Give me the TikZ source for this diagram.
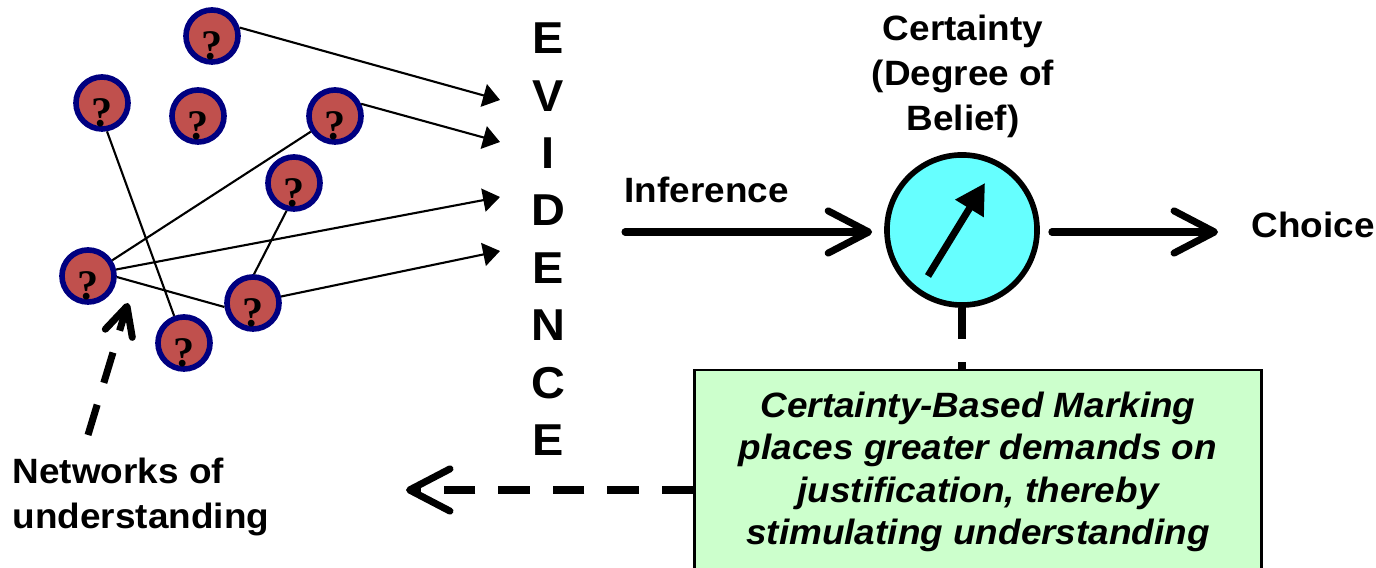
\documentclass[tikz,border=0pt]{standalone}
\usepackage{fontspec}
\setmainfont{Liberation Sans}[FakeStretch=1.05]
\newfontfamily\qfont{Liberation Serif}
\usepackage{xcolor}
\definecolor{brick}{HTML}{C0504D}
\definecolor{navy}{HTML}{000080}
\definecolor{dialc}{HTML}{66FFFF}
\definecolor{mint}{HTML}{CCFFCC}
\usetikzlibrary{arrows.meta,calc}
\tikzset{
  qnode/.style={circle,draw=navy,fill=brick,line width=1.6pt,minimum size=0.52cm,inner sep=0pt,
    label={[qmark]center:?}},
  qmark/.style={font=\qfont\bfseries\fontsize{12}{12}\selectfont,inner sep=0pt,yshift=-0.1cm},
  link/.style={draw=black,line width=0.6pt},
  linka/.style={link,-{Triangle[length=4.8pt,width=6.6pt]}},
  ev/.style={font=\bfseries\fontsize{12.7}{14}\selectfont,inner sep=0pt},
  lbl/.style={font=\bfseries\fontsize{10}{12.8}\selectfont,inner sep=0pt},
  dial/.style={circle,draw=black,fill=dialc,line width=1.6pt,minimum size=1.5cm,inner sep=0pt},
  needle/.style={line width=2pt,-{Triangle[length=8.5pt,width=9pt]}},
  bigflow/.style={line width=2pt,line cap=round,-{Straight Barb[length=11.5pt,width=12pt,round]}},
  dashflow/.style={bigflow,line cap=butt,dash pattern=on 9pt off 6.5pt},
  netflow/.style={dashflow,-{Straight Barb[length=8pt,width=8pt,round]}},
  note/.style={draw=black,fill=mint,line width=0.8pt,align=center,
    font=\bfseries\itshape\fontsize{10}{12.1}\selectfont,minimum width=5.66cm,minimum height=2.04cm},
}
\begin{document}
\begin{tikzpicture}[x=0.01cm,y=-0.01cm]
  \useasboundingbox (0,0) rectangle (1376,568);
  \clip (0,0) rectangle (1376,568);
  % network of ideas
  \foreach \n/\x/\y in {1/212/36,2/102/103,3/198/116,4/335/116,5/294/183,6/88/276,7/253/303,8/184/343}
    \node[qnode] (c\n) at (\x,\y) {};
  % evidence column
  \foreach \l [count=\i] in {E,V,I,D,E,N,C,E}
    \node[ev] (ev\i) at (548,57.4*\i-19) {\l};
  \foreach \k/\y in {1/100,2/142,3/197,4/251}
    \coordinate (e\k) at (500,\y);
  \draw[linka] (c1.17) -- (e1);
  \draw[linka] (c4.25) -- (e2);
  \draw[linka] (c6.13) -- (e3);
  \draw[linka] (c7.13) -- (e4);
  \draw[link] (c6) -- (c4);
  \draw[link] (c6.-2) -- (c7.188);
  \draw[link] (c2.-80) -- (c8.110);
  \draw[link] (c5.255) -- (c7.88);
  % dial
  \node[dial] (dial) at (962,230) {};
  \draw[needle] ([shift={(-34,46)}]dial.center) -- ([shift={(23,-47)}]dial.center);
  \node[lbl,align=center,anchor=north] (cert) at (963,14) {Certainty\\(Degree of\\Belief)};
  \coordinate (infs) at (625,232);
  \node[lbl,anchor=base west] (inf) at (624,203) {Inference};
  \draw[bigflow,shorten >=0.12cm] (infs) -- (infs -| dial.west);
  \coordinate (chs) at (1218,232);
  \draw[bigflow,shorten <=0.12cm] (chs -| dial.east) -- (chs);
  \node[lbl,anchor=base west] (choice) at (1251,238) {Choice};
  % feedback
  \node[note] (note) at (978,472) {Certainty-Based Marking\\places greater demands on\\justification, thereby\\stimulating understanding};
  \draw[line width=2pt,dash pattern=on 9pt off 6.5pt] (dial.south) -- (dial.south |- note.north);
  \coordinate (back) at (406,490);
  \draw[dashflow] (note.west |- back) -- (back);
  \coordinate (nets) at (88,435);
  \coordinate (nett) at (128,303);
  \draw[netflow] (nets) -- (nett);
  \node[lbl,align=left,anchor=north west] (netw) at (12,457) {Networks of\\understanding};
\end{tikzpicture}
\end{document}
